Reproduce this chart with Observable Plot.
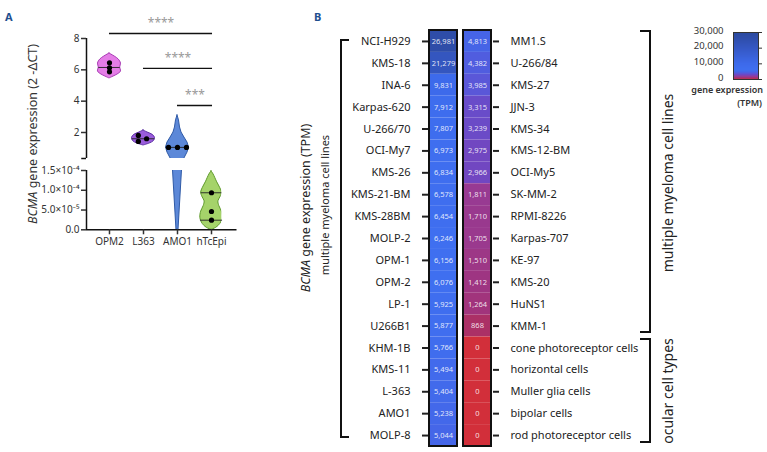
<!DOCTYPE html>
<html><head><meta charset="utf-8">
<script src="https://cdn.jsdelivr.net/npm/d3@7"></script>
<script src="https://cdn.jsdelivr.net/npm/@observablehq/plot@0.6"></script>
<style>
html,body{margin:0;padding:0;background:#fff;}
#fig{position:relative;width:767px;height:452px;overflow:hidden;font-family:"Noto Sans",sans-serif;color:#222;}
#fig svg{position:absolute;left:0;top:0;}
.t{position:absolute;white-space:nowrap;line-height:1;}
.rot{transform:translate(-50%,-50%) rotate(-90deg);}
.br{position:absolute;border-color:#111;border-style:solid;box-sizing:border-box;}
.panel{font-weight:700;color:#1f4f8f;font-size:11px;}
</style></head><body><div id="fig"></div>
<script>
// ===== Panel A data (qPCR, 2^-ΔCT) =====
const catsA = ["OPM2", "L363", "AMO1", "hTcEpi"];
const opm2Values = [6.45, 6.13, 5.87];
const l363Values = [1.81, 1.60, 1.43];
const amo1Values = [1.05, 1.05, 1.05];
const hTcEpiValues = [0.937e-4, 0.463e-4, 0.243e-4];
const l363Jitter = [-0.45, 0.27, -0.45];
const amo1Jitter = [-0.78, 0, 0.78];
// violin outlines: [value, relative density]
const opm2Violin = [[7.04,0],[6.85,0.45],[6.66,0.8],[6.40,1],[6.15,0.93],[5.89,1],[5.70,0.7],[5.57,0.35],[5.45,0]];
const l363Violin = [[2.13,0],[2.0,0.35],[1.85,0.8],[1.65,1],[1.45,0.9],[1.3,0.55],[1.17,0]];
const amo1Violin = [[3.09,0],[2.77,0.13],[2.32,0.22],[2.0,0.35],[1.68,0.6],[1.36,0.87],[1.04,1],[0.72,0.87],[0.34,0.6],[1.5e-4,0.39],[0,0.09]];
const hTcEpiViolin = [[1.48e-4,0],[1.40e-4,0.18],[1.20e-4,0.5],[1.05e-4,0.77],[0.94e-4,0.9],[0.82e-4,0.77],[0.72e-4,0.6],[0.60e-4,0.68],[0.46e-4,0.9],[0.30e-4,0.97],[0.15e-4,0.77],[0.05e-4,0.41],[0,0]];
const medianLines = [{c:0, v:6.15, d:0.93}, {c:1, v:1.60, d:0.98}, {c:2, v:1.05, d:1}];
const quartileLines = [{c:3, v:0.937e-4, d:0.9}, {c:3, v:0.243e-4, d:0.96}];
const sigFrom = [0, 1, 2];
const sigTo = [3.03, 3.03, 3.03];
const sigY = [8.32, 6.09, 3.72];
const sigLabels = ["****", "****", "***"];
const upperTicks = [2, 4, 6, 8];
const lowerTicks = [0, 5e-5, 1e-4, 1.5e-4];
const lowerTickLabels = ["0.0", "5.0×10⁻⁵", "1.0×10⁻⁴", "1.5×10⁻⁴"];

// ===== Panel B data (TPM) =====
const leftNames = ["NCI-H929","KMS-18","INA-6","Karpas-620","U-266/70","OCI-My7","KMS-26","KMS-21-BM","KMS-28BM","MOLP-2","OPM-1","OPM-2","LP-1","U266B1","KHM-1B","KMS-11","L-363","AMO1","MOLP-8"];
const leftTPM = [26981,21279,9831,7912,7807,6973,6834,6578,6454,6246,6156,6076,5925,5877,5766,5494,5404,5238,5044];
const rightNames = ["MM1.S","U-266/84","KMS-27","JJN-3","KMS-34","KMS-12-BM","OCI-My5","SK-MM-2","RPMI-8226","Karpas-707","KE-97","KMS-20","HuNS1","KMM-1","cone photoreceptor cells","horizontal cells","Muller glia cells","bipolar cells","rod photoreceptor cells"];
const rightTPM = [4813,4382,3985,3315,3239,2975,2966,1811,1710,1705,1510,1412,1264,868,0,0,0,0,0];
const legendTicks = [0, 10000, 20000, 30000];
const colorDomain = [0, 900, 1300, 1800, 3000, 4000, 4800, 6000, 10000, 21000, 27000, 30000];
const colorRange = ["#d22f3a","#aa3068","#a0347e","#983a92","#7047c2","#5a57d8","#4664e6","#3f6ff0","#3d6aeb","#3456c0","#2e4da8","#2b4aa0"];

const vFill = ["#e47de6", "#9a5cdb", "#5c88d8", "#a5d36a"];
const vStroke = ["#a83cb4", "#5b2ea3", "#2f5aa6", "#5f9a2c"];

const fig = document.getElementById("fig");
const HW = 0.338;
const X0 = -0.676;
const baseStyle = {fontFamily: '"Noto Sans", sans-serif', fontSize: "10px", color: "#333", background: "transparent", overflow: "visible"};
const xA = {type: "linear", domain: [X0, 3.3], axis: null};

function violin(profile, c, i) {
  return Plot.areaX(profile, {y: d => d[0], x1: d => c - d[1]*HW, x2: d => c + d[1]*HW,
    fill: vFill[i], stroke: vStroke[i], strokeWidth: 1, curve: i === 2 ? "linear" : "catmull-rom", clip: true});
}
const pts = (vals, c, jit) => vals.map((v, k) => ({x: c + (jit ? jit[k]*HW : 0), y: v}));
const sig = sigY.map((y, k) => ({from: sigFrom[k], to: sigTo[k], y, label: sigLabels[k]}));

const upper = Plot.plot({
  width: 235, height: 260, marginLeft: 86, marginRight: 13.8, marginTop: 14.5, marginBottom: 102,
  x: xA, y: {domain: [0.34, 9.5]},
  style: baseStyle,
  marks: [
    violin(opm2Violin, 0, 0), violin(l363Violin, 1, 1), violin(amo1Violin, 2, 2),
    Plot.ruleY(medianLines, {y: "v", x1: d => d.c - d.d*HW, x2: d => d.c + d.d*HW, stroke: "#222", strokeWidth: 0.9}),
    Plot.dot([...pts(opm2Values, 0), ...pts(l363Values, 1, l363Jitter), ...pts(amo1Values, 2, amo1Jitter)], {x: "x", y: "y", r: 2.6, fill: "#000"}),
    Plot.ruleX([X0], {y1: 0.34, y2: 8, stroke: "#111", strokeWidth: 1.5}),
    Plot.ruleY([0.34], {x1: X0 - 0.14, x2: X0, stroke: "#111", strokeWidth: 1.5}),
    Plot.axisY({ticks: upperTicks, tickSize: 5, tickPadding: 2, label: null, fontSize: 10, strokeWidth: 1.5}),
    Plot.ruleY(sig, {y: "y", x1: "from", x2: "to", stroke: "#111", strokeWidth: 1.4}),
    Plot.text(sig, {x: d => (d.from + d.to)/2, y: "y", text: "label", dy: -10, fill: "#999", fontSize: 12, letterSpacing: 1.5})
  ]
});
const lower = Plot.plot({
  width: 235, height: 260, marginLeft: 86, marginRight: 13.8, marginTop: 170, marginBottom: 30.7,
  x: xA, y: {domain: [0, 1.5e-4]},
  style: baseStyle,
  marks: [
    violin(amo1Violin, 2, 2), violin(hTcEpiViolin, 3, 3),
    Plot.ruleY(quartileLines, {y: "v", x1: d => d.c - d.d*HW, x2: d => d.c + d.d*HW, stroke: "#222", strokeWidth: 0.9}),
    Plot.dot(pts(hTcEpiValues, 3), {x: "x", y: "y", r: 2.6, fill: "#000"}),
    Plot.ruleX([X0], {y1: 0, y2: 1.5e-4, stroke: "#111", strokeWidth: 1.5}),
    Plot.ruleY([0], {x1: X0, x2: 3.75, stroke: "#111", strokeWidth: 1.5}),
    Plot.axisY({ticks: lowerTicks, tickFormat: (d, i) => lowerTickLabels[lowerTicks.indexOf(d)], tickSize: 5, tickPadding: 2, label: null, fontSize: 10, strokeWidth: 1.5}),
    Plot.axisX({ticks: [0, 1, 2, 3], tickFormat: i => catsA[i], tickSize: 5, tickPadding: 3, label: null, fontSize: 10, strokeWidth: 1.5})
  ]
});
fig.append(upper, lower);

// ===== Panel B heatmap =====
const cells = [
  ...leftTPM.map((v, i) => ({col: "c1", i, v})),
  ...rightTPM.map((v, i) => ({col: "c2", i, v}))
];
const rowTicks = leftNames.map((_, i) => i + 0.5);
const fmt = d3.format(",");
const colorScale = {type: "linear", domain: colorDomain, range: colorRange};
const heat = Plot.plot({
  width: 767, height: 452, marginLeft: 428, marginRight: 275, marginTop: 30, marginBottom: 6,
  x: {domain: ["c1", "c2"], paddingInner: 0.17, paddingOuter: 0, axis: null},
  y: {type: "linear", domain: [0, 19], reverse: true},
  color: colorScale,
  style: {...baseStyle, fontSize: "11px", color: "#222"},
  marks: [
    Plot.barY(cells, {x: "col", y1: "i", y2: d => d.i + 1, fill: "v", inset: 0}),
    Plot.text(cells, {x: "col", y: d => d.i + 0.5, text: d => fmt(d.v), fill: "#fff", fillOpacity: 0.85, fontSize: 7.5}),
    Plot.barY(["c1", "c2"], {x: d => d, y1: () => 0, y2: () => 19, fill: "none", stroke: "#111", strokeWidth: 2, inset: 0}),
    Plot.axisY({anchor: "left", ticks: rowTicks, tickFormat: d => leftNames[Math.floor(d)], tickSize: 6, tickPadding: 12, strokeWidth: 2, fontSize: 11, label: null}),
    Plot.axisY({anchor: "right", ticks: rowTicks, tickFormat: d => rightNames[Math.floor(d)], tickSize: 6, tickPadding: 12, strokeWidth: 2, fontSize: 11, label: null})
  ]
});
fig.append(heat);

const legend = Plot.plot({
  width: 767, height: 120, marginLeft: 733, marginRight: 9, marginTop: 32, marginBottom: 41,
  x: {domain: [0, 1], axis: null},
  y: {domain: [0, 30000]},
  color: colorScale,
  style: {...baseStyle, fontSize: "9.5px", color: "#333"},
  marks: [
    Plot.raster({x1: 0, x2: 1, y1: 0, y2: 30000, fill: (x, y) => y, width: 2, height: 300, imageRendering: "auto"}),
    Plot.frame({stroke: "#333", strokeWidth: 1}),
    Plot.axisY({anchor: "left", ticks: legendTicks, tickFormat: fmt, tickSize: 0, tickPadding: 10, label: null, dy: -2}),
    Plot.axisY({anchor: "right", ticks: legendTicks, tickFormat: () => "", tickSize: 3, label: null})
  ]
});
fig.append(legend);

// ===== annotations =====
function addText(html, x, y, cls, style) {
  const d = document.createElement("div");
  d.className = "t " + (cls || "");
  d.innerHTML = html;
  d.style.left = x + "px"; d.style.top = y + "px";
  Object.assign(d.style, style || {});
  fig.append(d);
  return d;
}
function addBracket(x, y0, y1, w, side) {
  const d = document.createElement("div");
  d.className = "br";
  d.style.left = x + "px"; d.style.top = y0 + "px";
  d.style.width = w + "px"; d.style.height = (y1 - y0) + "px";
  d.style.borderWidth = side === "left" ? "2px 0 2px 2px" : "2px 2px 2px 0";
  fig.append(d);
}
const yS = heat.scale("y");
addText("A", 5, 11, "panel");
addText("B", 314, 11, "panel");
addText("<i>BCMA</i> gene expression (2 -ΔCT)", 33, 134, "rot", {fontSize: "12.5px", color: "#333"});
addText("<i>BCMA</i> gene expression (TPM)", 306, 208, "rot", {fontSize: "12.5px"});
addText("multiple myeloma cell lines", 324, 205, "rot", {fontSize: "11px"});
addText("multiple myeloma cell lines", 668, yS.apply(7), "rot", {fontSize: "14px"});
addText("ocular cell types", 668, yS.apply(16.5), "rot", {fontSize: "14px"});
addText("gene expression", 763, 85, "", {fontSize: "9px", transform: "translateX(-100%)", fontWeight: "600", color: "#333"});
addText("(TPM)", 762, 98, "", {fontSize: "9px", transform: "translateX(-100%)", fontWeight: "600", color: "#333"});
addBracket(340, yS.apply(0.5) - 2, yS.apply(18.5) + 3, 9, "left");
addBracket(640, yS.apply(0), yS.apply(14) - 4, 11, "right");
addBracket(640, yS.apply(14) + 1, yS.apply(19) - 3, 11, "right");
</script></body></html>
